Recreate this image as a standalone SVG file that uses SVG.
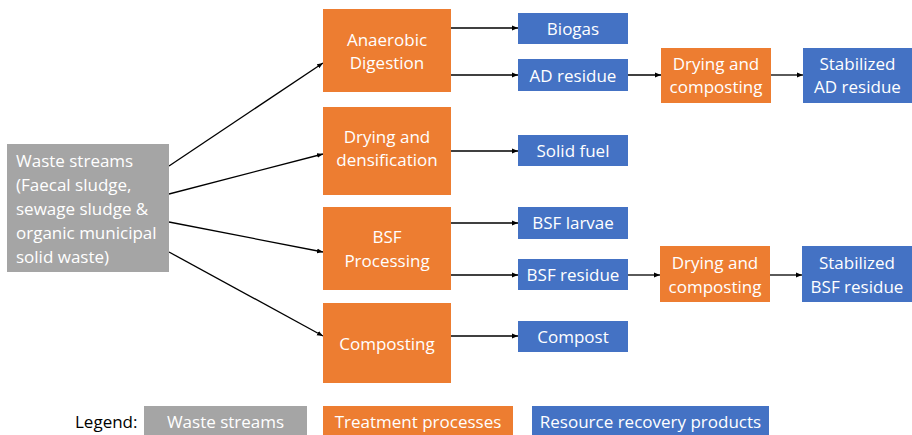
<svg xmlns="http://www.w3.org/2000/svg" width="912" height="435" viewBox="0 0 912 435">
<style>
.g{fill:#A5A5A5}
.o{fill:#ED7D31}
.b{fill:#4472C4}
text{font-family:"Open Sans","Liberation Sans",sans-serif;font-size:17px;fill:#fff}
.c{text-anchor:middle}
.k{fill:#000}
.ln{stroke:#000;stroke-width:1.3;fill:none;marker-end:url(#ah)}
</style>
<defs>
<marker id="ah" viewBox="0 0 10 10" refX="10" refY="5" markerWidth="6" markerHeight="6" markerUnits="userSpaceOnUse" orient="auto">
<path d="M0,1 L10,5 L0,9 z" fill="#000"/>
</marker>
</defs>
<rect width="912" height="435" fill="#fff"/>
<g id="connectors">
<line class="ln" x1="169" y1="166" x2="323" y2="63"/>
<line class="ln" x1="169" y1="194" x2="323" y2="154"/>
<line class="ln" x1="169" y1="222" x2="323" y2="252"/>
<line class="ln" x1="169" y1="252" x2="323" y2="336"/>
<line class="ln" x1="451" y1="28" x2="518" y2="28"/>
<line class="ln" x1="451" y1="75" x2="518" y2="75"/>
<line class="ln" x1="451" y1="151" x2="518" y2="151"/>
<line class="ln" x1="451" y1="223" x2="518" y2="223"/>
<line class="ln" x1="451" y1="275" x2="518" y2="275"/>
<line class="ln" x1="451" y1="336" x2="518" y2="336"/>
<line class="ln" x1="628" y1="75" x2="661" y2="75"/>
<line class="ln" x1="771" y1="75" x2="803" y2="75"/>
<line class="ln" x1="628" y1="275" x2="660" y2="275"/>
<line class="ln" x1="770" y1="275" x2="802" y2="275"/>
</g>
<g id="waste"><rect class="g" x="7" y="144" width="162" height="128"/>
<text x="16" y="167">Waste streams</text><text x="16" y="191">(Faecal sludge,</text><text x="16" y="215">sewage sludge &amp;</text><text x="16" y="239">organic municipal</text><text x="16" y="263">solid waste)</text></g>
<g id="ad"><rect class="o" x="323" y="9" width="128" height="83"/><text class="c" x="387" y="46">Anaerobic</text><text class="c" x="387" y="69">Digestion</text></g>
<g id="dd"><rect class="o" x="323" y="107" width="128" height="88"/><text class="c" x="387" y="143">Drying and</text><text class="c" x="387" y="166">densification</text></g>
<g id="bsf"><rect class="o" x="323" y="207" width="128" height="83"/><text class="c" x="387" y="243">BSF</text><text class="c" x="387" y="267">Processing</text></g>
<g id="comp"><rect class="o" x="323" y="303" width="128" height="80"/><text class="c" x="387" y="350">Composting</text></g>
<g id="biogas"><rect class="b" x="518" y="13" width="110" height="31"/><text class="c" x="573" y="35">Biogas</text></g>
<g id="adres"><rect class="b" x="518" y="59" width="110" height="32"/><text class="c" x="573" y="82">AD residue</text></g>
<g id="solid"><rect class="b" x="518" y="135" width="110" height="31"/><text class="c" x="573" y="157">Solid fuel</text></g>
<g id="larvae"><rect class="b" x="518" y="207" width="110" height="32"/><text class="c" x="573" y="229">BSF larvae</text></g>
<g id="bsfres"><rect class="b" x="518" y="259" width="110" height="31"/><text class="c" x="573" y="281">BSF residue</text></g>
<g id="compost"><rect class="b" x="518" y="321" width="110" height="31"/><text class="c" x="573" y="343">Compost</text></g>
<g id="dc1"><rect class="o" x="661" y="48" width="110" height="55"/><text class="c" x="716" y="70">Drying and</text><text class="c" x="716" y="93">composting</text></g>
<g id="stab1"><rect class="b" x="803" y="48" width="109" height="55"/><text class="c" x="857.5" y="70">Stabilized</text><text class="c" x="857.5" y="93">AD residue</text></g>
<g id="dc2"><rect class="o" x="660" y="246" width="110" height="56"/><text class="c" x="715" y="269">Drying and</text><text class="c" x="715" y="293">composting</text></g>
<g id="stab2"><rect class="b" x="802" y="246" width="110" height="56"/><text class="c" x="857" y="269">Stabilized</text><text class="c" x="857" y="293">BSF residue</text></g>
<g id="legend">
<text class="k" x="75" y="428">Legend:</text>
<rect class="g" x="144" y="406" width="163" height="35"/><text class="c" x="225.5" y="428">Waste streams</text>
<rect class="o" x="323" y="406" width="190" height="35"/><text class="c" x="418" y="428">Treatment processes</text>
<rect class="b" x="532" y="406" width="237" height="35"/><text class="c" x="650.5" y="428">Resource recovery products</text>
</g>
</svg>
